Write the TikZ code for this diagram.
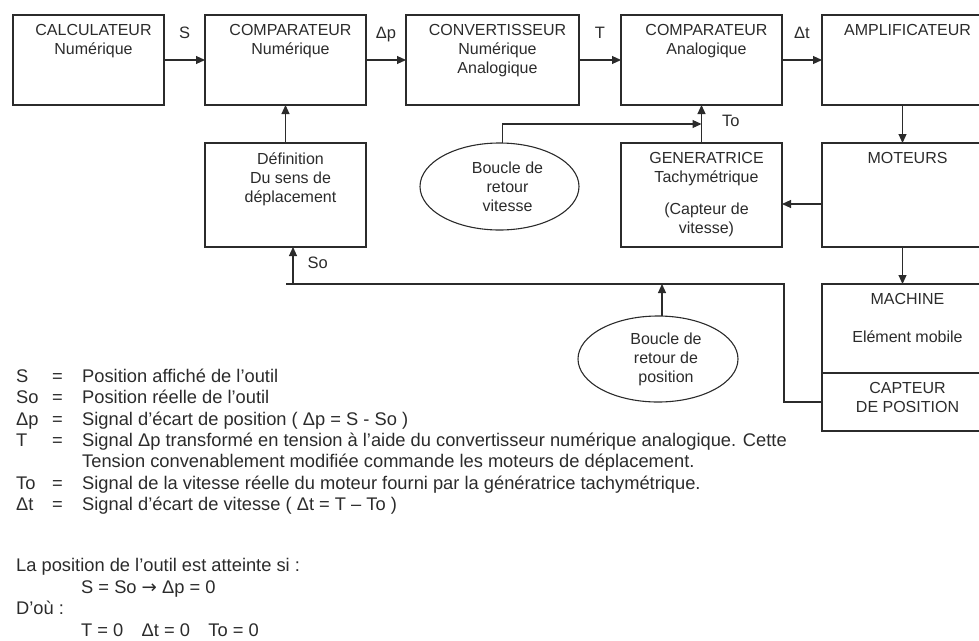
\documentclass[tikz,border=0pt]{standalone}
\usepackage{fontspec}
\setmainfont{Liberation Sans}
\newfontfamily\arrowfont{DejaVu Sans}
\usetikzlibrary{arrows.meta,positioning,shapes.geometric,calc}
\definecolor{ink}{HTML}{2B2B2B}

\begin{document}
\begin{tikzpicture}[x=1pt,y=-1pt,
 blockbox/.style={draw=ink,line width=1.1pt,inner sep=0pt,outer sep=0pt,
 minimum width=161pt,minimum height=90pt},
 boxtext/.style={anchor=north,inner sep=0pt,yshift=-9.5pt,xshift=5pt,align=center,
 text=ink,font=\fontsize{16}{19}\selectfont},
 loopshape/.style={draw=ink,line width=1.1pt,ellipse,inner sep=0pt,outer sep=0pt,
 minimum width=159pt,minimum height=87pt},
 looptext/.style={anchor=center,inner sep=0pt,xshift=8pt,align=center,
 text=ink,font=\fontsize{16}{19}\selectfont},
 sig/.style={inner sep=0pt,text=ink,font=\fontsize{16.5}{19}\selectfont},
 flow/.style={-{Triangle[length=9pt,width=8pt]},line width=1.1pt,draw=ink},
 wire/.style={line width=1.1pt,draw=ink},
 legendtext/.style={inner sep=0pt,anchor=base west,text=ink,
 font=\fontsize{18.3}{21.3}\selectfont}]

\useasboundingbox (0,0) rectangle (979,640);

% forward chain
\node[blockbox,minimum width=151pt,anchor=north west,
 label={[boxtext]north:{CALCULATEUR\\Numérique}}] (calc) at (13,15) {};
\node[blockbox,right=41pt of calc,
 label={[boxtext]north:{COMPARATEUR\\Numérique}}] (numcomp) {};
\node[blockbox,minimum width=173pt,right=40pt of numcomp,
 label={[boxtext]north:{CONVERTISSEUR\\Numérique\\Analogique}}] (dac) {};
\node[blockbox,right=42pt of dac,
 label={[boxtext]north:{COMPARATEUR\\Analogique}}] (anacomp) {};
\node[blockbox,right=40pt of anacomp,
 label={[boxtext]north:{AMPLIFICATEUR}}] (ampli) {};

% second row
\node[blockbox,minimum height=104pt,below=38pt of numcomp,
 label={[boxtext]north:{Définition\\Du sens de\\déplacement}}] (sense) {};
\node[blockbox,minimum height=104pt,below=38pt of anacomp,
 label={[boxtext]north:{GENERATRICE\\Tachymétrique\\[13pt](Capteur de\\vitesse)}}] (tacho) {};
\node[blockbox,minimum height=104pt,below=38pt of ampli,
 label={[boxtext]north:{MOTEURS}}] (motors) {};
\node[blockbox,minimum height=89pt,below=37pt of motors,
 label={[boxtext]north:{MACHINE\\[19pt]Elément mobile}}] (machine) {};
\node[blockbox,minimum height=58pt,below=0pt of machine,
 label={[boxtext]north:{CAPTEUR\\DE POSITION}}] (sensor) {};

% loops
\node[loopshape,label={[looptext]center:{Boucle de\\retour\\vitesse}}] (speedloop) at (499.5,186.5) {};
\node[loopshape,minimum width=160pt,minimum height=86pt,
 label={[looptext]center:{Boucle de\\retour de\\position}}] (posloop) at (658,359) {};

\coordinate (tojoin) at ($(tacho.north)!.5!(anacomp.south)$);
\coordinate (fbcorner) at (784,284);
\coordinate (fbleft) at (286,284);
\coordinate (sotap) at (293,284);

\draw[flow] (calc) -- node[sig,anchor=base,yshift=22pt] (sigS) {S} (numcomp);
\draw[flow] (numcomp) -- node[sig,anchor=base,yshift=22pt] (sigDp) {Δp} (dac);
\draw[flow] (dac) -- node[sig,anchor=base,yshift=22pt] (sigT) {T} (anacomp);
\draw[flow] (anacomp) -- node[sig,anchor=base,yshift=22pt] (sigDt) {Δt} (ampli);
\draw[flow] (ampli) -- (motors);
\draw[flow] (motors) -- (machine);
\draw[flow] ([yshift=-9pt]motors.west) -- ([yshift=-9pt]motors.west -| tacho.east);
\draw[flow] (tacho.north) -- node[sig,anchor=west,xshift=20pt,yshift=3pt] (sigTo) {To} (tacho.north |- anacomp.south);
\draw[flow] ([xshift=3pt]speedloop.north) |- (tojoin);
\draw[flow] (sense) -- (numcomp);
\draw[wire] (sensor.west) -| (fbcorner) -- (fbleft);
\draw[flow] (sotap) -- node[sig,anchor=west,xshift=14pt,yshift=2.5pt] (sigSo) {So} (sotap |- sense.south);
\draw[flow] ([xshift=4pt]posloop.north) -- ([xshift=4pt]posloop.north |- fbleft);

% legend
\node[legendtext] (defs) at (16,382.5) {\begin{tabular}[t]{@{}p{36pt}@{}p{30pt}@{}l@{}}
S & = & Position affiché de l’outil\\
So & = & Position réelle de l’outil\\
Δp & = & Signal d’écart de position ( Δp = S - So )\\
T & = & Signal Δp transformé en tension à l’aide du convertisseur numérique analogique. Cette\\
 & & Tension convenablement modifiée commande les moteurs de déplacement.\\
To & = & Signal de la vitesse réelle du moteur fourni par la génératrice tachymétrique.\\
Δt & = & Signal d’écart de vitesse ( Δt = T – To )
\end{tabular}};
\node[legendtext,font=\fontsize{18.3}{21.5}\selectfont] (goal) at (16,571.5) {\begin{tabular}[t]{@{}l@{}}
La position de l’outil est atteinte si :\\
\hspace*{65pt}S = So {\arrowfont →} Δp = 0\\
D’où :\\
\hspace*{65pt}T = 0\quad Δt = 0\quad To = 0
\end{tabular}};
\end{tikzpicture}
\end{document}
